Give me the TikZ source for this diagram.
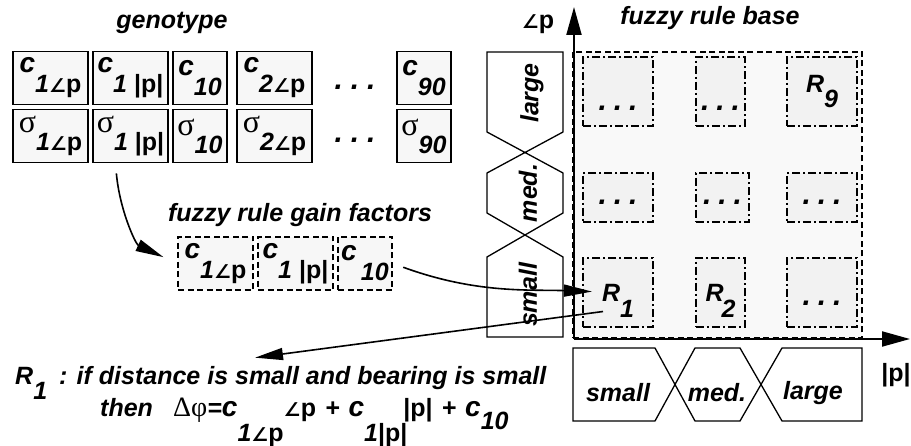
\documentclass[tikz,border=0pt]{standalone}
\usepackage{fontspec}
\setmainfont{Liberation Sans}
\newfontfamily\angfont{DejaVu Sans}
\newfontfamily\grkfont{Liberation Serif}
\usetikzlibrary{arrows.meta,positioning,calc}
\tikzset{
  gene/.style={draw=black, line width=1.8pt, fill=gray!6, minimum width=75pt, minimum height=53pt, inner sep=0pt},
  gain/.style={gene, dash pattern=on 6pt off 3.5pt},
  rulebox/.style={draw=black, line width=1.5pt, fill=gray!10, dash pattern=on 8pt off 3pt on 2pt off 3pt, inner sep=0pt},
  basearea/.style={draw=black, line width=1.5pt, fill=gray!5, dash pattern=on 6pt off 3.5pt, inner sep=0pt},
  member/.style={draw=black, line width=1.3pt, line join=miter},
  axis/.style={line width=2pt, -{Triangle[length=28pt,width=15pt]}},
  conn/.style={line width=1.6pt, -{Triangle[length=28pt,width=12pt]}},
  lbl/.style={inner sep=0pt}
}
\newcommand{\angl}{{\angfont\upshape\fontsize{19}{19}\selectfont ∠}}
\newcommand{\pp}{{\upshape p}}
\newcommand{\absp}{{\upshape |p|}}
\newcommand{\cc}{{\fontsize{28}{28}\selectfont c}}
\newcommand{\sig}{{\grkfont\mdseries\upshape\fontsize{32}{32}\selectfont σ}}
\newcommand{\low}[2][20pt]{\raisebox{-#1}{#2}}
\newcommand{\rsub}[2][16pt]{\raisebox{-#1}[0pt][0pt]{#2}}
\newcommand{\tdots}[1][0pt]{\raisebox{#1}[0pt][0pt]{\fontsize{30}{30}\selectfont.\hspace{7pt}.\hspace{7pt}.}}

\begin{document}
\begin{tikzpicture}[x=1pt, y=-1pt, font=\fontsize{25}{29}\selectfont\bfseries\itshape]
  \useasboundingbox (0,0) rectangle (911,446);

  % genotype
  \node[lbl, anchor=base] (genotitle) at (172,29) {genotype};
  \node[gene] (c1) at (50.5,78) {\cc\low{1\angl\pp}};
  \node[gene] (c2) at (130.5,78) {\cc\low{1 \absp}};
  \node[gene, minimum width=54pt] (c3) at (200,78) {\cc\low{10}};
  \node[gene] (c4) at (274.5,78) {\cc\low{2\angl\pp}};
  \node[lbl] (cdots) at (355,87) {\fontsize{30}{30}\selectfont.\hspace{8pt}.\hspace{8pt}.};
  \node[gene, minimum width=54pt] (c90) at (424,78) {\cc\low{90}};
  \node[gene] (s1) at (50.5,136) {\sig\low[18pt]{1\angl\pp}};
  \node[gene] (s2) at (130.5,136) {\sig\low[18pt]{1 \absp}};
  \node[gene, minimum width=54pt] (s3) at (200,136) {\sig\low[18pt]{10}};
  \node[gene] (s4) at (274.5,136) {\sig\low[18pt]{2\angl\pp}};
  \node[lbl] (sdots) at (355,140) {\fontsize{30}{30}\selectfont.\hspace{8pt}.\hspace{8pt}.};
  \node[gene, minimum width=54pt] (s90) at (424,136) {\sig\low[18pt]{90}};

  % gain factors
  \node[lbl, anchor=base] (gaintitle) at (300,222) {fuzzy rule gain factors};
  \node[gain] (f1) at (215.5,263.5) {\cc\low{1\angl\pp}};
  \node[gain] (f2) at (295.5,263.5) {\cc\low{1 \absp}};
  \node[gain, minimum width=54pt] (f3) at (365,263.5) {\cc\low{\,10}};

  % rule base
  \node[lbl, anchor=base] (basetitle) at (710,25) {fuzzy rule base};
  \node[basearea, minimum width=289pt, minimum height=286pt] (base) at (717.5,195) {};
  \node[rulebox, minimum width=70pt, minimum height=69pt] (r7) at (618,91.5) {\tdots[-19pt]};
  \node[rulebox, minimum width=49pt, minimum height=69pt] (r8) at (720.5,91.5) {\tdots[-19pt]};
  \node[rulebox, minimum width=70pt, minimum height=69pt] (r9) at (822,91.5) {R\low[15pt]{9}};
  \node[rulebox, minimum width=70pt, minimum height=49pt] (r4) at (618,197.5) {\tdots[-7pt]};
  \node[rulebox, minimum width=53pt, minimum height=49pt] (r5) at (722.5,197.5) {\tdots[-7pt]};
  \node[rulebox, minimum width=70pt, minimum height=49pt] (r6) at (822,197.5) {\tdots[-7pt]};
  \node[rulebox, minimum width=70pt, minimum height=69pt] (r1) at (618,292.5) {R\rsub{1}};
  \node[rulebox, minimum width=49pt, minimum height=69pt] (r2) at (720.5,292.5) {R\hspace{-2pt}\rsub{2}};
  \node[rulebox, minimum width=70pt, minimum height=69pt] (r3) at (822,292.5) {\tdots[-13pt]};

  % membership functions
  \draw[member] (487,132) -- (487,52) -- (563,52) -- (563,132) -- (487,173) -- (487,213)
    -- (563,257) -- (563,337) -- (487,337) -- (487,257) -- (563,213) -- (563,173) -- cycle;
  \draw[member] (655,348) -- (573,348) -- (573,421) -- (655,421) -- (695,348) -- (740,348)
    -- (782,421) -- (862,421) -- (862,348) -- (782,348) -- (740,421) -- (695,421) -- cycle;
  \node[lbl, rotate=90] (vlarge) at (532,93) {large};
  \node[lbl, rotate=90] (vmed) at (528,193) {med.};
  \node[lbl, rotate=90] (vsmall) at (528,295) {small};
  \node[lbl] (hsmall) at (618,393) {small};
  \node[lbl] (hmed) at (717,393) {med.};
  \node[lbl] (hlarge) at (813,393) {large};

  % axes
  \coordinate (origin) at (574,339);
  \coordinate (ytip) at (574,7);
  \coordinate (xtip) at (910,339);
  \draw[axis] (origin) -- (ytip);
  \draw[axis] (origin) -- (xtip);
  \node[lbl] (ylab) at (538,24) {\upshape\angl p};
  \node[lbl] (xlab) at (896,375) {\upshape |p|};

  % rule text
  \node[lbl, anchor=base west] (rule1) at (15,385) {R\raisebox{-15pt}{1}\hspace{12pt}: if distance is small and bearing is small};
  \node[lbl, anchor=base west] (rulethen) at (100,417) {then};
  \node[lbl, anchor=base west] (formula) at (173,417) {{\grkfont\mdseries\upshape\fontsize{28}{28}\selectfont Δφ}=\cc\raisebox{-25pt}{1\angl\pp}\angl\pp\hspace{9pt}+\hspace{9pt}\cc\raisebox{-25pt}{1\absp}\hspace{-4pt}\absp\hspace{9pt}+\hspace{9pt}\cc\raisebox{-13pt}{10}};

  % connectors
  \draw[conn, shorten <=10pt, shorten >=15pt] ([xshift=-15pt]s2.south) to[out=-85, in=155] (f1.west);
  \draw[conn, shorten <=11pt, shorten >=26pt] (f3.east) to[out=-20, in=178] (r1.center);
  \draw[conn] ([shift={(-15pt,-19pt)}]r1.center) -- ([shift={(240pt,9pt)}]rule1.north west);
\end{tikzpicture}
\end{document}
